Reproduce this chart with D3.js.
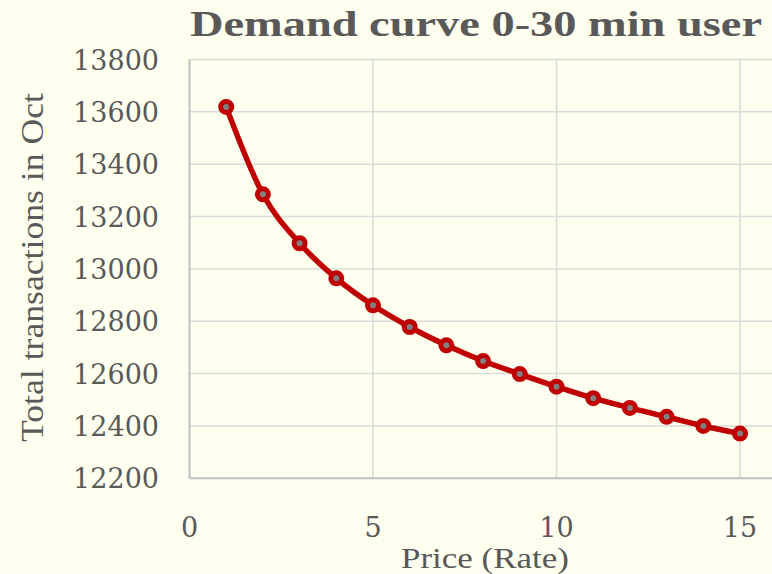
<!DOCTYPE html>
<html>
<head>
<meta charset="utf-8">
<script src="https://cdn.jsdelivr.net/npm/d3@7"></script>
<style>
  html, body { margin: 0; padding: 0; background: #FFFFEF; }
  svg { display: block; }
  text { fill: #595959; }
  .tick-label { font-family: "DejaVu Serif", "Liberation Serif", serif; }
  .title-text { font-family: "Liberation Serif", "DejaVu Serif", serif; }
</style>
</head>
<body>
<svg id="chart" width="772" height="574"></svg>
<script>
// Price levels (rate) and total transactions observed in October
const prices = [1, 2, 3, 4, 5, 6, 7, 8, 9, 10, 11, 12, 13, 14, 15];
const transactions = [13619, 13285, 13098, 12964, 12861, 12778, 12708, 12648,
                      12598, 12550, 12506, 12469, 12435, 12400, 12371];
const xTicks = [0, 5, 10, 15];
const yTicks = [12200, 12400, 12600, 12800, 13000, 13200, 13400, 13600, 13800];

const chartTitle = "Demand curve 0-30 min user";
const xTitle = "Price (Rate)";
const yTitle = "Total transactions in Oct";

const W = 772, H = 574;
const plot = { left: 189.5, right: 740, top: 59.5, bottom: 478.3, gridRight: 772 };

const svg = d3.select("#chart");

svg.append("rect").attr("width", W).attr("height", H).attr("fill", "#FFFFEF");

const x = d3.scaleLinear().domain([0, 15]).range([plot.left, plot.right]);
const y = d3.scaleLinear().domain([12200, 13800]).range([plot.bottom, plot.top]);

// Horizontal gridlines
svg.append("g")
  .selectAll("line")
  .data(yTicks.filter(v => v !== 12200))
  .join("line")
  .attr("x1", plot.left).attr("x2", plot.gridRight)
  .attr("y1", d => y(d)).attr("y2", d => y(d))
  .attr("stroke", "#D9D9D9").attr("stroke-width", 1.5);

// Vertical gridlines
svg.append("g")
  .selectAll("line")
  .data(xTicks.filter(v => v !== 0))
  .join("line")
  .attr("x1", d => x(d)).attr("x2", d => x(d))
  .attr("y1", plot.top).attr("y2", plot.bottom)
  .attr("stroke", "#D9D9D9").attr("stroke-width", 1.5);

// Axis lines
svg.append("line")
  .attr("x1", plot.left).attr("x2", plot.left)
  .attr("y1", plot.top).attr("y2", plot.bottom)
  .attr("stroke", "#BFBFBF").attr("stroke-width", 2);
svg.append("line")
  .attr("x1", plot.left).attr("x2", plot.gridRight)
  .attr("y1", plot.bottom).attr("y2", plot.bottom)
  .attr("stroke", "#BFBFBF").attr("stroke-width", 2);

// Y tick labels
svg.append("g")
  .selectAll("text")
  .data(yTicks)
  .join("text")
  .attr("class", "tick-label")
  .attr("x", 159)
  .attr("y", d => y(d) + 10)
  .attr("text-anchor", "end")
  .attr("font-size", 27)
  .text(d => d);

// X tick labels
svg.append("g")
  .selectAll("text")
  .data(xTicks)
  .join("text")
  .attr("class", "tick-label")
  .attr("x", d => x(d))
  .attr("y", 537)
  .attr("text-anchor", "middle")
  .attr("font-size", 27)
  .text(d => d);

// Title
svg.append("text")
  .attr("class", "title-text")
  .attr("x", 190).attr("y", 36)
  .attr("font-size", 36)
  .attr("font-weight", "bold")
  .attr("textLength", 572)
  .attr("lengthAdjust", "spacingAndGlyphs")
  .text(chartTitle);

// Axis titles
svg.append("text")
  .attr("class", "title-text")
  .attr("x", 485).attr("y", 568)
  .attr("text-anchor", "middle")
  .attr("font-size", 29)
  .attr("textLength", 168)
  .attr("lengthAdjust", "spacingAndGlyphs")
  .text(xTitle);

svg.append("text")
  .attr("class", "title-text")
  .attr("transform", "translate(43,267.5) rotate(-90)")
  .attr("text-anchor", "middle")
  .attr("font-size", 31)
  .attr("textLength", 349)
  .attr("lengthAdjust", "spacingAndGlyphs")
  .text(yTitle);

// Smoothed demand curve
const points = prices.map((p, i) => [p, transactions[i]]);
const line = d3.line()
  .x(d => x(d[0]))
  .y(d => y(d[1]))
  .curve(d3.curveCatmullRom.alpha(0));

svg.append("path")
  .datum(points)
  .attr("d", line)
  .attr("fill", "none")
  .attr("stroke", "#C00000")
  .attr("stroke-width", 5.5)
  .attr("stroke-linejoin", "round");

// Markers
svg.append("g")
  .selectAll("circle")
  .data(points)
  .join("circle")
  .attr("cx", d => x(d[0]))
  .attr("cy", d => y(d[1]))
  .attr("r", 5.5)
  .attr("fill", "#808080")
  .attr("stroke", "#C00000")
  .attr("stroke-width", 5);
</script>
</body>
</html>
